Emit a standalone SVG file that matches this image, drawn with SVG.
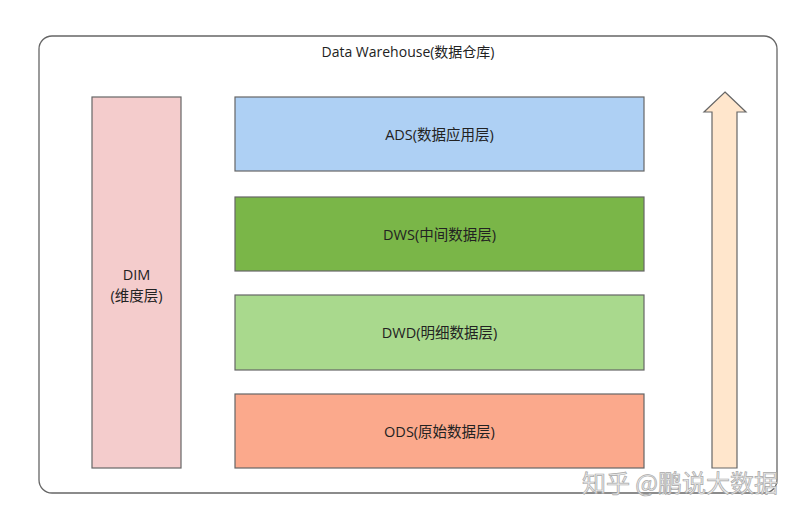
<svg xmlns="http://www.w3.org/2000/svg" width="800" height="513" viewBox="0 0 800 513">
<style>
.box{stroke:#666;stroke-width:1.2}
.t{font-family:"Open Sans","Noto Sans CJK SC",sans-serif;font-size:14px;fill:#222;text-anchor:middle;dominant-baseline:central}
.l{font-size:14.5px}
.wm{font-family:"Noto Sans CJK SC",sans-serif;font-size:24px;fill:#ececec;stroke:#a8a8a8;stroke-width:0.7;text-anchor:end}
</style>
<rect width="800" height="513" fill="#fff"/>
<g id="warehouse">
<rect x="39" y="36" width="738" height="457" rx="13" fill="#fff" stroke="#666" stroke-width="1.3"/>
<text class="t" x="408" y="51">Data Warehouse(数据仓库)</text>
</g>
<g id="dim">
<rect class="box" x="92" y="97" width="89" height="371" fill="#f4cccc"/>
<text class="t l" x="136.5" y="274">DIM</text>
<text class="t l" x="136.5" y="295">(维度层)</text>
</g>
<g id="ads">
<rect class="box" x="235" y="97" width="409" height="74" fill="#aed0f4"/>
<text class="t l" x="439.5" y="134">ADS(数据应用层)</text>
</g>
<g id="dws">
<rect class="box" x="235" y="197" width="409" height="74" fill="#7ab648"/>
<text class="t l" x="439.5" y="234">DWS(中间数据层)</text>
</g>
<g id="dwd">
<rect class="box" x="235" y="295" width="409" height="75" fill="#a9d98d"/>
<text class="t l" x="439.5" y="332.5">DWD(明细数据层)</text>
</g>
<g id="ods">
<rect class="box" x="235" y="394" width="409" height="74" fill="#fba98c"/>
<text class="t l" x="439.5" y="431">ODS(原始数据层)</text>
</g>
<g id="connectors">
<polygon class="box" points="725,92 746,112 737,112 737,468 712,468 712,112 704,112" fill="#ffe6cc"/>
</g>
<text class="wm" x="778" y="492">知乎 @鹏说大数据</text>
</svg>
